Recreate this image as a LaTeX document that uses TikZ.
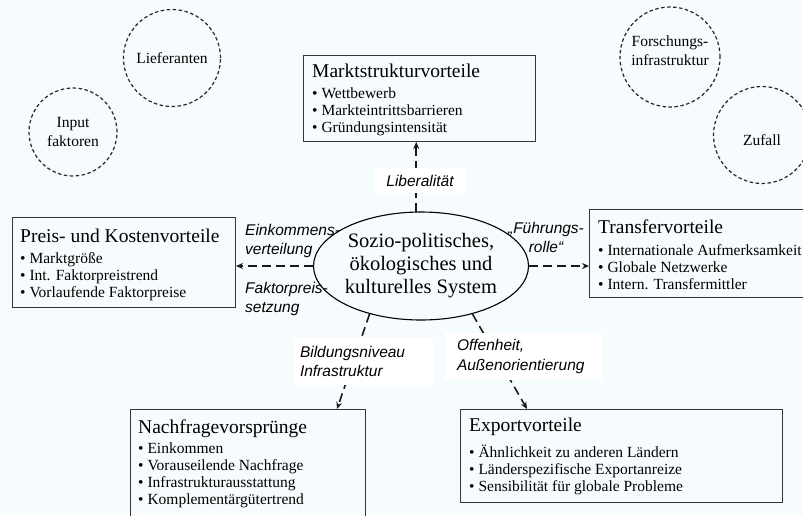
\documentclass[tikz,border=0pt]{standalone}
\usepackage{fontspec}
\setmainfont{Liberation Serif}
\newfontfamily\labelsans{Liberation Sans}
\usetikzlibrary{shapes.geometric,arrows.meta}

\definecolor{paper}{RGB}{246,252,253}
\definecolor{framegray}{RGB}{55,55,55}

% font sizes for the boxes
\newcommand\titlesize{\fontsize{19.5}{17}\selectfont}
\newcommand\itemsize{\lineskiplimit=-100pt\fontsize{15.5}{17}\selectfont}
\newcommand\boxtitle[1]{{\titlesize\rule{0pt}{14pt}#1}}

\tikzset{
  frame/.style={draw=framegray, line width=1pt, anchor=north west, inner sep=0pt},
  boxtext/.style={anchor=north west, inner sep=0pt, align=left, font=\itemsize},
  circ/.style={circle, draw=black!85, line width=1.2pt, dash pattern=on 3.5pt off 2.5pt,
    inner sep=0pt, align=center, font=\fontsize{15.5}{19}\selectfont},
  conn/.style={draw=black!90, line width=1.6pt, dash pattern=on 9pt off 5pt,
    -{Stealth[length=7pt,width=6pt]}},
  lbl/.style={inner sep=0pt, font=\labelsans\itshape\fontsize{15.5}{19.5}\selectfont},
  whitelbl/.style={lbl, fill=white}
}

\begin{document}
\begin{tikzpicture}[x=1pt, y=-1pt]
  \path[use as bounding box, fill=paper] (0,0) rectangle (803,515);
  \clip (0,0) rectangle (803,515);

  % outer factors
  \node[circ, minimum size=97] (lief) at (172,58) {Lieferanten};
  \node[circ, minimum size=88] (input) at (73,132) {Input\\faktoren};
  \node[circ, minimum size=100, text height=17pt, text depth=0pt] (forsch) at (670,57)
       {Forschungs-\\infrastruktur};
  \node[circ, minimum size=97, text height=21pt, text depth=0pt] (zufall) at (762,135) {Zufall};

  % central system
  \node[ellipse, draw=black, line width=1.1pt, minimum width=186, minimum height=108,
        inner sep=0pt, align=center, font=\fontsize{20.5}{23}\selectfont]
        (sys) at (421,266) {Sozio-politisches,\\ökologisches und\\kulturelles System};

  % advantage boxes
  \node[frame, minimum width=232, minimum height=86] (markt) at (303,55) {};
  \node[boxtext] (markt-t) at (312,77-14) {\boxtitle{Marktstrukturvorteile}\\[4pt]
    • Wettbewerb\\
    • Markteintrittsbarrieren\\
    • Gründungsintensität};

  \node[frame, minimum width=223, minimum height=90] (preis) at (12,217) {};
  \node[boxtext] (preis-t) at (20,242-14) {\boxtitle{Preis- und Kostenvorteile}\\[4pt]
    • Marktgröße\\
    • Int. Faktorpreistrend\\
    • Vorlaufende Faktorpreise};

  \node[frame, minimum width=240, minimum height=88] (transfer) at (589,209) {};
  \node[boxtext] (transfer-t) at (598,233-14) {\boxtitle{Transfervorteile}\\[5pt]
    • Internationale Aufmerksamkeit\\
    • Globale Netzwerke\\
    • Intern. Transfermittler};

  \node[frame, minimum width=235, minimum height=130] (nachfrage) at (130,409) {};
  \node[boxtext] (nachfrage-t) at (138,433-14) {\boxtitle{Nachfragevorsprünge}\\[3pt]
    • Einkommen\\
    • Vorauseilende Nachfrage\\
    • Infrastrukturausstattung\\
    • Komplementärgütertrend};

  \node[frame, minimum width=322, minimum height=93] (export) at (460,409) {};
  \node[boxtext] (export-t) at (469,431-14) {\boxtitle{Exportvorteile}\\[9pt]
    • Ähnlichkeit zu anderen Ländern\\
    • Länderspezifische Exportanreize\\
    • Sensibilität für globale Probleme};

  % connectors
  \draw[conn] (sys.95) -- (sys.95 |- markt.south);
  \draw[conn] (sys.west) -- (sys.west -| preis.east);
  \draw[conn] (sys.east) -- (sys.east -| transfer.west);
  \draw[conn] (sys.223) -- ([xshift=207pt]nachfrage.north west);
  \draw[conn] (sys.317) -- ([xshift=67pt]export.north west);

  % connector labels
  \node[whitelbl, minimum width=90, minimum height=25] (lib) at (420,180.5) {Liberalität};
  \node[lbl, anchor=north west, align=left] (eink) at (245,223.7) {Einkommens-\\verteilung};
  \node[lbl, anchor=north west, align=left] (fakt) at (245,281.7) {Faktorpreis-\\setzung};
  \node[lbl, anchor=north, align=center] (fuehr) at (546,221.7) {„Führungs-\\rolle“};
  \node[whitelbl, align=left, text width=126, inner xsep=7pt, minimum height=47]
       (bild) at (363,361.5) {Bildungsniveau\\Infrastruktur};
  \node[whitelbl, align=left, text width=133, inner xsep=12pt, minimum height=47]
       (offen) at (523.5,356.5) {Offenheit,\\Außenorientierung};
\end{tikzpicture}
\end{document}
